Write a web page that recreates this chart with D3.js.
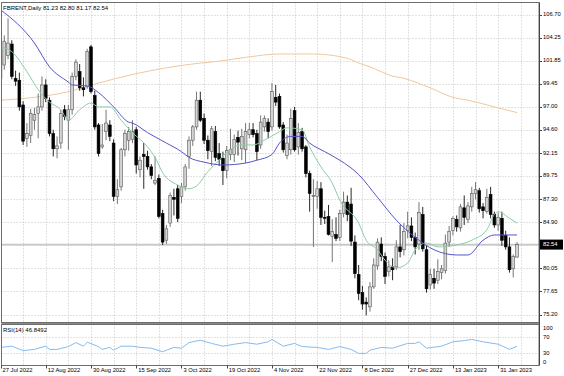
<!DOCTYPE html>
<html>
<head>
<meta charset="utf-8">
<script src="https://cdn.jsdelivr.net/npm/d3@7"></script>
<style>
    body { margin: 0; background: #fff; }
    svg text { font-family: "Liberation Sans", Arial, sans-serif; font-size: 5.8px; fill: #000; }
    .grid line { stroke: #c4c4c4; stroke-width: 1; stroke-dasharray: 1,2; }
    .title { font-size: 6px; }
</style>
</head>
<body>
<div id="chart"></div>
<script>
// daily candles, 27 Jul 2022 .. 7 Feb 2023 (bar index = position)
var opens = [100.0,101.4,102.4,103.6,100.0,99.8,97.2,93.7,94.0,95.6,96.3,97.0,99.3,97.7,94.2,92.6,93.2,96.7,95.6,96.7,
    100.2,100.7,99.0,99.1,103.3,98.2,95.1,92.8,94.4,95.1,93.2,87.6,88.6,92.5,93.5,93.6,94.6,90.4,92.0,91.8,
    90.7,89.0,89.5,85.8,83.0,84.8,87.5,88.4,87.6,88.6,91.8,93.5,94.9,97.7,95.8,93.5,92.3,94.4,92.1,91.6,
    90.3,92.0,92.0,93.8,92.6,92.5,94.1,94.6,94.2,93.0,94.9,95.4,94.9,98.0,98.1,95.1,91.9,92.5,96.6,92.8,
    94.4,92.8,90.0,87.6,87.6,88.4,85.4,85.5,83.4,83.6,83.3,85.8,87.0,86.8,82.8,79.4,77.5,76.5,76.0,78.1,
    80.3,82.6,81.3,79.7,80.2,80.2,82.3,82.0,84.0,84.5,83.3,82.6,85.7,82.0,78.3,79.0,78.8,79.6,79.8,82.8,
    84.0,85.2,84.3,86.4,85.2,86.5,87.9,88.2,86.5,86.0,87.8,85.7,84.6,85.3,83.5,82.3,80.0,81.23]
var highs = [103.6,104.5,106.3,104.0,100.8,100.6,97.6,95.3,96.8,96.9,98.4,100.2,99.9,98.0,94.6,93.9,96.7,97.2,97.2,100.6,
    102.0,101.5,100.1,103.1,103.5,98.7,95.3,95.2,96.7,95.6,93.6,89.4,92.7,94.6,94.9,95.6,94.9,91.8,93.2,92.4,
    91.0,91.8,89.9,86.2,84.6,88.0,88.4,88.8,89.0,91.0,93.9,95.1,98.6,98.6,96.3,94.0,95.0,95.0,93.2,92.3,
    92.9,94.7,94.1,94.5,94.7,95.3,95.3,95.3,94.6,96.1,96.1,95.8,99.5,99.3,98.4,95.4,94.1,96.8,97.0,95.3,
    94.8,93.0,90.3,89.4,89.2,89.1,86.1,86.7,85.2,85.4,86.2,88.1,87.7,88.5,83.5,80.4,78.2,77.0,78.6,81.1,
    83.2,83.3,81.7,80.9,81.1,83.0,84.6,84.8,86.0,85.4,83.8,87.0,86.5,82.5,80.0,80.0,81.0,80.4,83.6,84.5,
    85.5,85.6,86.8,87.7,87.0,88.6,89.1,88.5,86.9,88.4,88.6,86.0,85.9,86.0,84.0,83.3,81.5,82.80]
var lows = [99.6,100.9,102.0,99.9,99.2,96.6,93.0,92.8,93.2,94.6,93.7,96.6,97.5,93.9,91.8,91.6,92.6,95.6,92.5,96.2,
    99.8,98.7,98.1,98.9,98.4,94.6,91.8,92.6,93.5,93.4,87.1,86.8,88.2,91.8,92.4,93.2,90.0,89.6,88.4,90.4,
    89.4,88.8,85.3,82.5,82.6,84.4,85.6,84.9,86.9,88.2,90.5,92.9,94.6,95.4,93.1,91.5,90.8,91.3,90.8,88.8,
    89.5,91.4,91.2,91.9,91.4,91.1,93.7,93.8,91.4,92.6,94.4,93.7,94.5,97.1,94.7,92.2,91.5,92.0,92.3,92.0,
    92.3,89.6,86.0,82.3,86.3,84.6,84.7,83.5,80.7,82.9,82.9,85.4,85.0,82.4,79.0,76.7,75.7,75.1,75.5,77.9,
    79.9,80.8,78.4,79.2,78.8,79.9,81.2,81.4,83.2,82.9,81.5,82.0,81.8,77.5,77.8,77.9,78.4,78.9,79.5,82.3,
    83.5,83.9,83.9,84.6,84.8,86.0,87.3,85.9,85.3,85.8,85.3,84.3,84.0,82.4,82.0,79.6,79.1,81.17]
var closes = [102.9,103.9,103.7,100.2,99.7,97.0,93.4,94.2,96.3,96.2,97.0,99.3,97.9,94.2,92.6,92.9,96.3,96.0,96.7,100.2,
    101.7,99.0,98.8,102.8,98.6,94.9,92.1,93.0,95.3,93.9,87.6,88.3,92.5,94.2,94.4,94.4,90.9,91.4,91.8,90.7,
    89.8,89.3,85.5,82.8,84.2,87.7,87.3,85.3,88.6,90.7,93.5,94.9,97.7,95.6,93.5,92.4,94.7,91.7,91.5,90.3,
    92.4,92.5,93.6,93.3,93.9,94.4,94.6,94.1,92.3,95.4,95.8,94.4,98.6,97.5,94.9,92.5,93.2,95.8,92.5,94.3,
    92.6,90.0,87.9,87.7,88.4,85.4,85.3,83.6,83.9,83.2,85.8,87.0,85.7,82.9,79.5,77.4,76.3,76.3,78.1,80.4,
    82.8,81.3,79.2,80.2,79.9,82.3,81.8,83.9,84.5,83.3,82.3,85.9,82.1,77.9,79.4,78.5,79.7,80.0,82.7,83.9,
    85.3,84.4,86.5,85.4,86.6,87.9,88.3,86.3,86.1,87.5,85.7,84.6,85.4,83.0,82.3,79.9,81.3,82.54]

// date labels every 12 bars
var dateBars = [0, 12, 24, 36, 48, 60, 72, 84, 96, 108, 120, 132]
var dateLabels = ["27 Jul 2022", "12 Aug 2022", "30 Aug 2022", "15 Sep 2022", "3 Oct 2022", "19 Oct 2022",
    "4 Nov 2022", "22 Nov 2022", "8 Dec 2022", "27 Dec 2022", "13 Jan 2023", "31 Jan 2023"]

var priceTicks = [106.70, 104.25, 101.85, 99.45, 97.00, 94.60, 92.15, 89.75, 87.30, 84.90, 82.48, 80.05, 77.65, 75.20]
var priceLabels = ["106.70", "104.25", "101.85", "99.45", "97.00", "94.60", "92.15", "89.75", "87.30", "84.90", "", "80.05", "77.65", "75.20"]

// moving averages: [bar, value]
var maBlue = [[0,107.2],[9,103.7],[13,101.2],[18,99.6],[19,99.3],[23,99.2],[26,98.5],[30,97.0],[34,95.4],[35,95.3],
    [39,94.3],[44,93.2],[48,92.3],[50,91.7],[54,91.2],[59,90.9],[65,91.1],[68,91.4],[72,92.0],[74,93.2],[77,93.9],
    [80,93.9],[82,93.2],[86,92.3],[90,91.4],[95,89.9],[100,87.5],[105,85.1],[110,83.3],[115,82.0],[121,81.45],
    [124,81.45],[128,83.0],[131,83.55],[137,83.55]]
var maGreen = [[0,103.3],[3,102.8],[7,100.7],[10,98.8],[13,97.5],[16,96.7],[18,95.6],[21,96.7],[24,97.4],[26,97.0],
    [29,97.0],[32,95.6],[35,94.3],[39,92.8],[41,91.7],[43,90.1],[47,88.8],[50,88.4],[52,88.7],[55,90.2],[58,91.4],
    [60,92.2],[64,93.0],[67,93.0],[70,93.5],[74,94.4],[76,94.8],[80,94.6],[82,92.8],[85,90.7],[88,89.0],[90,87.2],
    [95,84.8],[97,83.0],[100,82.0],[102,80.9],[105,80.1],[108,80.6],[110,82.0],[113,82.7],[116,82.3],[121,82.5],
    [125,83.0],[129,84.1],[131,85.7],[132,86.0],[135,85.3],[137,84.8]]
var maTan = [[0,97.7],[9,98.0],[18,98.6],[26,99.5],[35,100.4],[44,101.1],[53,101.6],[56,101.7],[65,102.2],[74,102.55],
    [83,102.55],[92,102.1],[95,101.6],[98,101.2],[101,100.7],[103,100.35],[107,100.0],[114,99.0],[120,98.0],
    [124,97.7],[132,96.9],[137,96.4]]

var rsi = [[0,44],[3,47],[6,36],[9,39],[12,47],[13,39],[15,39],[18,46],[20,56],[22,47],[23,57],[26,46],[27,39],[29,44],
    [30,37],[32,47],[35,47],[37,44],[40,42],[43,33],[44,37],[46,44],[48,42],[50,56],[53,62],[56,54],[59,47],[62,52],
    [65,56],[68,52],[71,58],[72,64],[75,47],[78,54],[80,46],[84,44],[87,39],[90,46],[93,39],[95,29],[97,29],[98,37],
    [101,44],[104,42],[108,54],[110,54],[111,58],[113,42],[117,47],[120,58],[123,61],[125,64],[128,58],[132,52],
    [135,39],[137,46.85]]
var rsiTicks = [100, 70, 30, 0]

var lastPrice = 82.54

function candle_chart(){
    var W = 564, H = 376
    var left = 1.5, right = 539,
        mainTop = 2.5, mainBottom = 322.5,
        rsiTop = 324.5, rsiBottom = 365.5

    var svg = d3.select("#chart").append("svg")
        .attr("width", W)
        .attr("height", H)

    var x = d3.scaleLinear().domain([0, 138]).range([0.5, 0.5 + 3.77 * 138])
    var y = d3.scaleLinear().domain([75.20, 106.70]).range([314.5, 14.5])
    var yR = d3.scaleLinear().domain([0, 100]).range([365, 325])

    svg.append("clipPath").attr("id", "clipMain")
        .append("rect").attr("x", left).attr("y", mainTop).attr("width", right - left).attr("height", mainBottom - mainTop)
    svg.append("clipPath").attr("id", "clipRsi")
        .append("rect").attr("x", left).attr("y", rsiTop).attr("width", right - left).attr("height", rsiBottom - rsiTop)

    // grid
    var grid = svg.append("g").attr("class", "grid")
    var gridBars = d3.range(0, 139, 6)

    grid.selectAll(".vg").data(gridBars).enter()
        .append("line")
        .attr("x1", d => Math.round(x(d)) + 0.5).attr("x2", d => Math.round(x(d)) + 0.5)
        .attr("y1", mainTop).attr("y2", mainBottom)
    grid.selectAll(".vgr").data(gridBars).enter()
        .append("line")
        .attr("x1", d => Math.round(x(d)) + 0.5).attr("x2", d => Math.round(x(d)) + 0.5)
        .attr("y1", rsiTop).attr("y2", rsiBottom)
    grid.selectAll(".hg").data(priceTicks).enter()
        .append("line")
        .attr("x1", left).attr("x2", right)
        .attr("y1", d => Math.round(y(d)) + 0.5).attr("y2", d => Math.round(y(d)) + 0.5)
    grid.selectAll(".hgr").data([70, 30]).enter()
        .append("line")
        .attr("x1", left).attr("x2", right)
        .attr("y1", d => Math.round(yR(d)) + 0.5).attr("y2", d => Math.round(yR(d)) + 0.5)

    var main = svg.append("g").attr("clip-path", "url(#clipMain)")

    // bid line
    main.append("line")
        .attr("x1", left).attr("x2", right)
        .attr("y1", y(lastPrice)).attr("y2", y(lastPrice))
        .attr("stroke", "#c8c8c8").attr("stroke-width", 1.6)

    // moving averages
    var maLine = d3.line().x(d => x(d[0])).y(d => y(d[1])).curve(d3.curveMonotoneX)
    main.append("path").attr("d", maLine(maTan))
        .attr("fill", "none").attr("stroke", "#efc7a0").attr("stroke-width", 1)

    var bars = closes.map(function(c, i){
        return {i: i, o: opens[i], h: highs[i], l: lows[i], c: c}
    })

    main.selectAll(".wick").data(bars).enter()
        .append("line")
        .attr("x1", d => x(d.i)).attr("x2", d => x(d.i))
        .attr("y1", d => y(d.h)).attr("y2", d => y(d.l))
        .attr("stroke", d => d.c >= d.o ? "#666" : "#111")
        .attr("stroke-width", 0.9)

    main.selectAll(".body").data(bars).enter()
        .append("rect")
        .attr("x", d => x(d.i) - 1.4)
        .attr("width", 2.8)
        .attr("y", d => y(Math.max(d.o, d.c)))
        .attr("height", d => Math.max(Math.abs(y(d.o) - y(d.c)), 0.8))
        .attr("fill", d => d.c >= d.o ? "#d4d4d4" : "#000")
        .attr("stroke", d => d.c >= d.o ? "#5a5a5a" : "#000")
        .attr("stroke-width", 0.6)

    main.append("path").attr("d", maLine(maGreen))
        .attr("fill", "none").attr("stroke", "#8ccca4").attr("stroke-width", 1)
    main.append("path").attr("d", maLine(maBlue))
        .attr("fill", "none").attr("stroke", "#5555c8").attr("stroke-width", 1)

    // rsi
    svg.append("g").attr("clip-path", "url(#clipRsi)")
        .append("path")
        .attr("d", d3.line().x(d => x(d[0])).y(d => yR(d[1]))(rsi))
        .attr("fill", "none").attr("stroke", "#86bbee").attr("stroke-width", 1)

    // frames
    svg.append("rect").attr("x", left).attr("y", mainTop)
        .attr("width", right - left).attr("height", mainBottom - mainTop)
        .attr("fill", "none").attr("stroke", "#6e6e6e")
    svg.append("rect").attr("x", left).attr("y", rsiTop)
        .attr("width", right - left).attr("height", rsiBottom - rsiTop)
        .attr("fill", "none").attr("stroke", "#6e6e6e")
    svg.append("line").attr("x1", left).attr("x2", right)
        .attr("y1", 323.5).attr("y2", 323.5)
        .attr("stroke", "#8a8a8a")
    svg.append("line").attr("x1", right + 0.5).attr("x2", right + 0.5)
        .attr("y1", mainTop).attr("y2", rsiBottom)
        .attr("stroke", "#444")

    // price axis
    var pa = svg.append("g")
    priceTicks.forEach(function(p, k){
        if (!priceLabels[k]) return
        pa.append("line")
            .attr("x1", right + 0.5).attr("x2", right + 3)
            .attr("y1", Math.round(y(p)) + 0.5).attr("y2", Math.round(y(p)) + 0.5)
            .attr("stroke", "#444")
        pa.append("text")
            .attr("x", right + 4).attr("y", y(p))
            .attr("dominant-baseline", "middle")
            .text(priceLabels[k])
    })

    pa.append("rect")
        .attr("x", right + 1).attr("y", y(lastPrice) - 5)
        .attr("width", 23).attr("height", 10)
        .attr("fill", "#000")
    pa.append("text")
        .attr("x", right + 4).attr("y", y(lastPrice))
        .attr("dominant-baseline", "middle")
        .style("fill", "#fff")
        .text(lastPrice.toFixed(2))

    rsiTicks.forEach(function(v){
        var ty = v == 100 ? 328 : v == 0 ? 362 : yR(v)
        pa.append("text")
            .attr("x", right + 4).attr("y", ty)
            .attr("dominant-baseline", "middle")
            .text(v)
    })

    // date axis
    var da = svg.append("g")
    dateBars.forEach(function(b, k){
        da.append("line")
            .attr("x1", Math.round(x(b)) + 0.5).attr("x2", Math.round(x(b)) + 0.5)
            .attr("y1", rsiBottom).attr("y2", rsiBottom + 3)
            .attr("stroke", "#444")
        da.append("text")
            .attr("x", x(b) + 2).attr("y", 370.5)
            .attr("dominant-baseline", "middle")
            .text(dateLabels[k])
    })

    // titles
    svg.append("text").attr("class", "title")
        .attr("x", 3).attr("y", 8.5)
        .attr("dominant-baseline", "middle")
        .text("FBRENT,Daily  " + opens[137].toFixed(2) + " " + highs[137].toFixed(2) + " " + lows[137].toFixed(2) + " " + closes[137].toFixed(2))
    svg.append("text").attr("class", "title")
        .attr("x", 3).attr("y", 330)
        .attr("dominant-baseline", "middle")
        .text("RSI(14) 46.8492")
}

candle_chart()
</script>
</body>
</html>
